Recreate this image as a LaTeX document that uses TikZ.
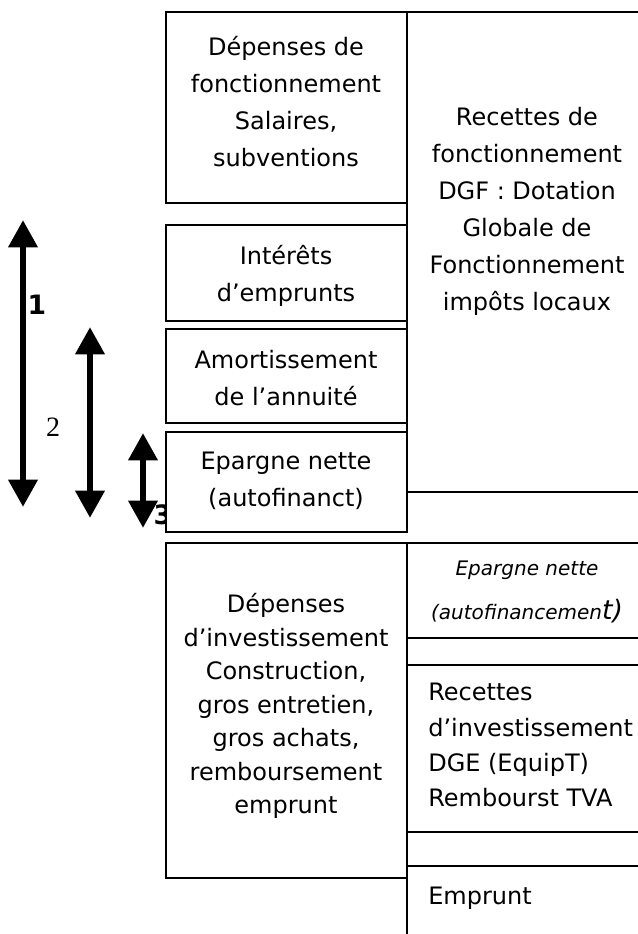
\documentclass[tikz,border=0pt]{standalone}
\usepackage{fontspec}
\setmainfont{DejaVu Sans}
\newfontfamily\serifnum{Liberation Serif}
\usetikzlibrary{arrows.meta}
\begin{document}
\begin{tikzpicture}[x=0.75pt,y=-0.75pt,
  box/.style={line width=1.6pt},
  txt/.style={align=center,inner sep=0pt,font=\fontsize{18}{27.75}\selectfont},
  txtb/.style={align=center,inner sep=0pt,font=\fontsize{18}{25.1}\selectfont},
  txtl/.style={align=left,inner sep=0pt,anchor=west,font=\fontsize{18}{26.3}\selectfont},
  dbl/.style={line width=5pt,{Triangle[length=20.5pt,width=21pt]}-{Triangle[length=20.5pt,width=21pt]}},
  num/.style={inner sep=0pt,font=\fontsize{20}{24}\selectfont\bfseries}
]
\useasboundingbox (0,0) rectangle (637,934);
\fill[white] (0,0) rectangle (637,934);

% arrows
\coordinate (a1t) at (23,220); \coordinate (a1b) at (23,507);
\coordinate (a2t) at (90,327); \coordinate (a2b) at (90,518);
\coordinate (a3t) at (143,433); \coordinate (a3b) at (143,528);
\draw[dbl] (a1t) -- (a1b);
\draw[dbl] (a2t) -- (a2b);
\draw[dbl] (a3t) -- (a3b);
\node[num] (n1) at (37,305) {1};
\node[inner sep=0pt,font=\serifnum\fontsize{21}{24}\selectfont] (n2) at (53,427) {2};
\node[num] (n3) at (163,515) {3};

% right column (fonctionnement)
\draw[box] (407,12) -- (640,12);
\draw[box] (407,12) -- (407,532);
\draw[box] (407,492) -- (640,492);

% left boxes
\draw[box] (166,12) rectangle (407,203);
\draw[box,fill=white] (166,225) rectangle (407,321);
\draw[box,fill=white] (166,329) rectangle (407,423);
\draw[box,fill=white] (166,432) rectangle (407,532);
\draw[box] (166,543) rectangle (407,878);

% right column (investissement)
\draw[box] (407,543) -- (640,543);
\draw[box] (407,543) -- (407,940);
\draw[box] (407,638) -- (640,638);
\draw[box] (407,665) -- (640,665);
\draw[box] (407,832) -- (640,832);
\draw[box] (407,866) -- (640,866);

% texts
\node[txt] (depf) at (286,102) {Dépenses de\\fonctionnement\\Salaires,\\subventions};
\node[txt] (recf) at (527,211) {Recettes de\\fonctionnement\\DGF : Dotation\\Globale de\\Fonctionnement\\impôts locaux};
\node[txt] (int) at (286,276) {Intérêts\\d’emprunts};
\node[txt] (amo) at (286,378) {Amortissement\\de l’annuité};
\node[txt] (epa) at (286,481) {Epargne nette\\(autofinanct)};
\node[txtb] (depi) at (286,706) {Dépenses\\d’investissement\\Construction,\\gros entretien,\\gros achats,\\remboursement\\emprunt};
\node[align=center,inner sep=0pt,font=\fontsize{15}{33}\selectfont\itshape] (epi) at (527,592) {Epargne nette\\(autofinancemen{\fontsize{20}{33}\selectfont t)}};
\node[txtl] (reci) at (428,745) {Recettes\\d’investissement\\DGE (EquipT)\\Rembourst TVA};
\node[txtl] (emp) at (428,898) {Emprunt};
\end{tikzpicture}
\end{document}
